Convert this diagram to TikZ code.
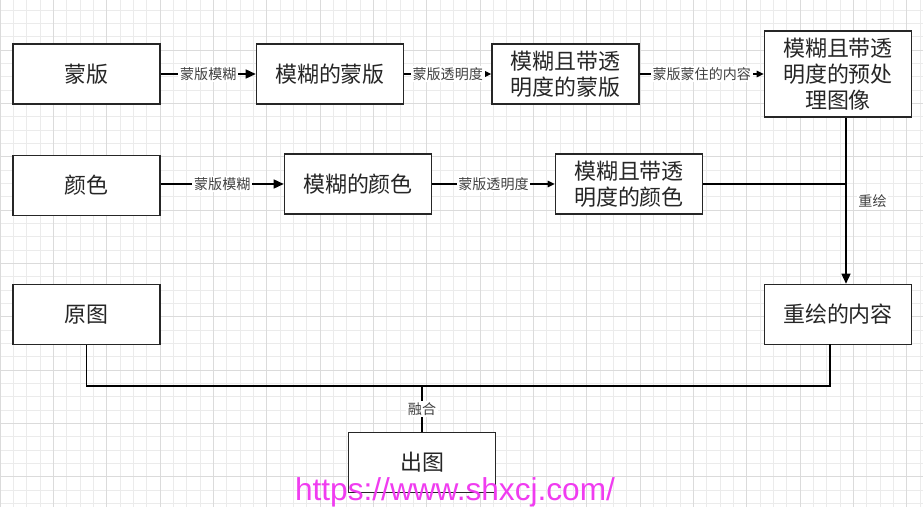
\documentclass[tikz,border=0pt]{standalone}
\usepackage{fontspec}
\setmainfont{Noto Sans CJK SC}
\setsansfont{Liberation Sans}
\usetikzlibrary{arrows.meta}
\definecolor{wmark}{RGB}{240,60,240}

\begin{document}
\begin{tikzpicture}[
        x=0.02cm, y=-0.02cm,
        box/.style={
            draw=black!85,
            line width=0.9pt,
            fill=white,
            minimum width=2.94cm,
            minimum height=1.2cm,
            align=center,
            inner sep=1pt,
            text=black!85,
            font=\fontsize{12.5}{14.8}\selectfont
        },
        line/.style={-{Triangle[length=2mm,width=1.8mm]}, line width=0.8pt},
        linesm/.style={-{Triangle[length=1.4mm,width=1.3mm]}, line width=0.8pt},
        plain/.style={line width=0.8pt},
        lbl/.style={fill=white, inner sep=1pt, text=black!75, font=\fontsize{8}{9}\selectfont},
        gridminor/.style={black!8, line width=0.4pt},
        gridmajor/.style={black!14, line width=0.5pt}
    ]

        \useasboundingbox (0,0) rectangle (923,507);

        % raster
        \foreach \i in {0,...,69} {\draw[gridminor] (\i*13.333,0) -- (\i*13.333,507);}
        \foreach \j in {0,...,37} {\draw[gridminor] (0,10+\j*13.333) -- (923,10+\j*13.333);}
        \foreach \i in {0,...,17} {\draw[gridmajor] (\i*53.333,0) -- (\i*53.333,507);}
        \foreach \j in {1,...,10} {\draw[gridmajor] (0,-3.333+\j*53.333) -- (923,-3.333+\j*53.333);}

        % 1. row
        \node[box] (mask) at (86.5,74) {蒙版};
        \node[box] (bmask) at (330,74) {模糊的蒙版};
        \node[box] (tmask) at (565.5,74) {模糊且带透\\明度的蒙版};
        \node[box, minimum height=1.72cm] (pre) at (838,74) {模糊且带透\\明度的预处\\理图像};

        % 2. row
        \node[box] (col) at (86.5,185.5) {颜色};
        \node[box] (bcol) at (358,184) {模糊的颜色};
        \node[box] (tcol) at (629,184) {模糊且带透\\明度的颜色};

        % 3. row
        \node[box] (orig) at (86.5,314.5) {原图};
        \node[box] (redraw) at (838,314.5) {重绘的内容};

        % 4. row
        \node[box] (out) at (422,462.5) {出图};

        % junctions
        \coordinate (jn) at (846,184);
        \coordinate (rj) at (830,344);
        \coordinate (mix) at (422,386);

        % spoje
        \draw[line] (mask) -- node[lbl] {蒙版模糊} (bmask);
        \draw[linesm] (bmask) -- node[lbl] {蒙版透明度} (tmask);
        \draw[linesm] (tmask) -- node[lbl] {蒙版蒙住的内容} (pre);

        \draw[line] (col.east |- bcol) -- node[lbl] {蒙版模糊} (bcol);
        \draw[linesm] (bcol) -- node[lbl] {蒙版透明度} (tcol);

        \draw[plain] (tcol.east) -- (jn);
        \draw[line] (pre.south -| jn) -- node[lbl, anchor=west, xshift=0.2cm] {重绘} (redraw.north -| jn);

        \draw[plain] (orig.south) |- (mix) -| (rj);
        \draw[plain] (mix) -- node[lbl] {融合} (out.north);

        % watermark
        \node[text=wmark, anchor=base, inner sep=0pt, font=\sffamily\fontsize{18}{20}\selectfont] (url) at (455,500) {https://www.shxcj.com/};

    \end{tikzpicture}
\end{document}
